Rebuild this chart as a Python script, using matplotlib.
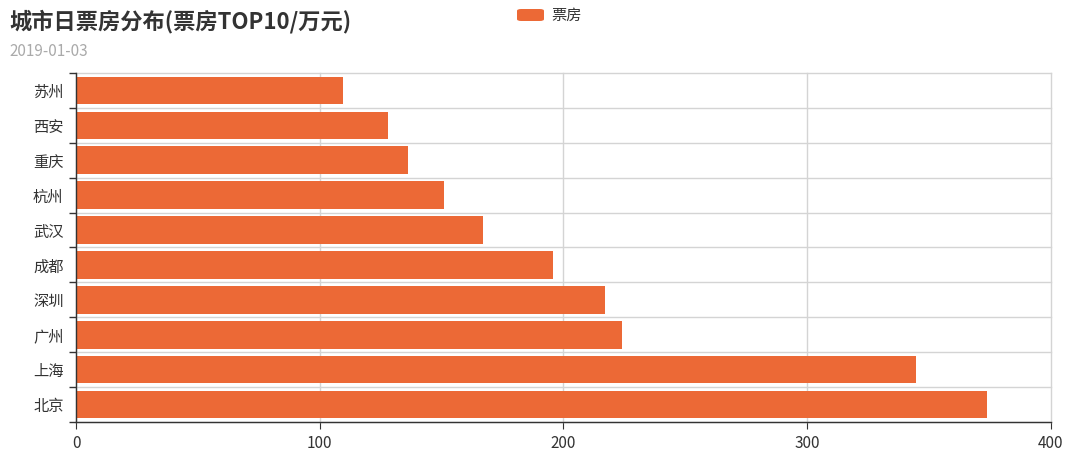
import numpy as np
import matplotlib.pyplot as plt
from matplotlib.patches import FancyBboxPatch

plt.rcParams['font.family'] = ['Noto Sans CJK SC', 'DejaVu Sans']

# data (bottom to top)
cities = ['北京', '上海', '广州', '深圳', '成都', '武汉', '杭州', '重庆', '西安', '苏州']
box_office = [373.9, 344.5, 224.0, 217.0, 195.8, 167.1, 151.0, 136.1, 128.0, 109.7]
x_ticks = [0, 100, 200, 300, 400]

bar_color = '#EC6936'
axis_color = '#333333'
grid_color = '#d4d4d4'

fig = plt.figure(figsize=(10.8, 4.59), dpi=100)
ax = fig.add_axes([0.0704, 0.0806, 0.9026, 0.7604])

y = np.arange(len(cities))
ax.barh(y, box_office, height=0.79, color=bar_color, zorder=3)

ax.set_xlim(0, 400)
ax.set_ylim(-0.5, len(cities) - 0.5)

# category boundaries as major ticks, labels at centers
ax.set_yticks(np.arange(-0.5, len(cities)), minor=False)
ax.set_yticklabels([])
ax.set_yticks(y, minor=True)
ax.set_yticklabels(cities, minor=True)
ax.tick_params(axis='y', which='minor', length=0, pad=9, labelsize=11, labelcolor=axis_color)
ax.tick_params(axis='y', which='major', length=5, color=axis_color, width=1)

ax.set_xticks(x_ticks)
ax.tick_params(axis='x', length=5, color=axis_color, labelsize=11, labelcolor=axis_color, pad=4)

ax.grid(True, axis='y', which='major', color=grid_color, lw=1, zorder=0)
ax.grid(True, axis='x', color=grid_color, lw=1, zorder=0)
for line in ax.get_xgridlines() + ax.get_ygridlines():
    line.set_clip_on(False)

for s in ['top', 'right']:
    ax.spines[s].set_visible(False)
for s in ['left', 'bottom']:
    ax.spines[s].set_color(axis_color)
    ax.spines[s].set_linewidth(1)
    ax.spines[s].set_zorder(4)

# title and subtitle
fig.text(0.009, 0.953, '城市日票房分布(票房TOP10/万元)', fontsize=16, fontweight='bold',
         color='#333333', va='center', ha='left')
fig.text(0.009, 0.888, '2019-01-03', fontsize=11, color='#aaaaaa', va='center', ha='left')

# legend
patch = FancyBboxPatch((517 / 1080, 1 - 21 / 459), 27 / 1080, 12 / 459,
                       boxstyle='round,pad=0,rounding_size=0.004',
                       transform=fig.transFigure, facecolor=bar_color, edgecolor='none')
fig.patches.append(patch)
fig.text(551 / 1080, 1 - 15 / 459, '票房', fontsize=11, color='#333333', va='center', ha='left')

fig.savefig('out.png', dpi=100)
